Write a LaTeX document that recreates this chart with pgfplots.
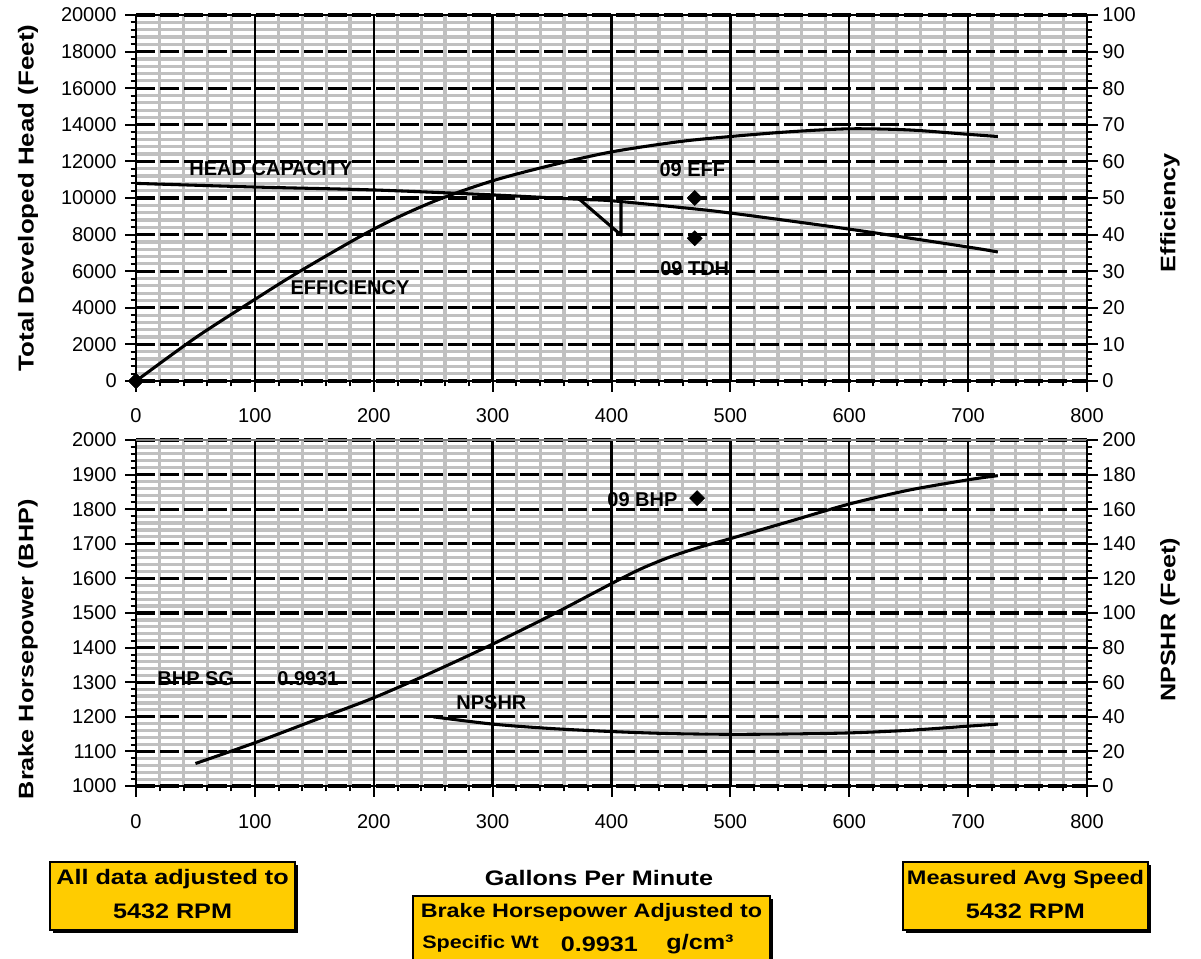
\documentclass[border=0pt]{standalone}
\usepackage{pgfplots}
\pgfplotsset{compat=1.18}
\usepackage{fontspec}
\setmainfont{Liberation Sans}
\newfontfamily\widefont{Liberation Sans}[FakeStretch=1.2]
\definecolor{gridgray}{RGB}{192,192,192}
\definecolor{boxyellow}{RGB}{255,204,0}
\definecolor{bordergray}{RGB}{128,128,128}

\tikzset{lbl/.style={font=\bfseries\fontsize{15}{17}\selectfont, inner sep=0pt}}
\pgfplotsset{
  base/.style={
    scale only axis, width=713.25pt,
    xmin=0, xmax=800,
    axis line style={draw=none},
    tick style={black, line width=1.5pt},
    major tick length=8pt, minor tick length=4pt,
    tick align=outside,
    tick label style={font=\fontsize{15}{17}\selectfont},
    /pgf/number format/assume math mode=true,
    /pgf/number format/1000 sep={},
    scaled ticks=false,
    clip=false,
  },
  gridax/.style={base,
    xtick={0,100,...,800}, minor x tick num=4, minor y tick num=4,
    xticklabels={}, yticklabels={}, major tick length=0pt, minor tick length=0pt,
    grid=minor,
    minor grid style={draw=gridgray, line width=2.4pt},
  },
  leftax/.style={base,
    xtick={0,100,...,800}, minor x tick num=4, minor y tick num=4,
    xtick pos=left, ytick pos=left,
    grid=major,
    major x grid style={draw=black, line width=1.8pt},
    major y grid style={draw=black, line width=2.4pt, dash pattern=on 14pt off 4pt},
    yticklabel style={xshift=-3pt},
    ylabel style={at={(axis description cs:-0.1136,0.5)}, anchor=center, font=\widefont\bfseries\fontsize{16.2}{18}\selectfont},
  },
  rightax/.style={base, xtick=\empty, ytick pos=right, yticklabel pos=right, minor y tick num=4,
    ylabel style={anchor=center, font=\widefont\bfseries\fontsize{15.75}{18}\selectfont},
  },
  curve/.style={black, line width=2.3pt, line join=round, no markers},
  dmark/.style={only marks, mark=square*, mark size=4pt, mark options={rotate=45, fill=black, draw=black}},
}

\begin{document}
\begin{tikzpicture}
\path[use as bounding box] (0,0) rectangle (900.75pt,-718.5pt);

% ================= top chart =================
\begin{axis}[gridax, at={(102pt,-285.75pt)}, anchor=south west, height=274.5pt,
  ymin=0, ymax=20000, ytick={0,2000,...,20000}]
\end{axis}

\begin{axis}[leftax, at={(102pt,-285.75pt)}, anchor=south west, height=274.5pt,
  ymin=0, ymax=20000, ytick={0,2000,...,20000},
  xticklabel style={yshift=-9pt},
  ylabel={Total Developed Head (Feet)}]
\addplot[curve, smooth] coordinates {
 (0,10800) (100,10600) (200,10440) (300,10170) (373,9930) (400,9850)
 (457,9490) (500,9180) (600,8300) (700,7320) (725,7050)};
\addplot[curve, sharp plot] coordinates {(373,9930) (408,7980) (408,9830)};
\addplot[dmark] coordinates {(470,7800) (0,0)};
\node[lbl] at (axis cs:113.5,11585) {HEAD CAPACITY};
\node[lbl] at (axis cs:180,5080) {EFFICIENCY};
\node[lbl] at (axis cs:468,11530) {09 EFF};
\node[lbl] at (axis cs:470,6120) {09 TDH};
\draw[line width=2.2pt] (rel axis cs:0,0) -- (rel axis cs:0,1);
\draw[line width=1.8pt] (rel axis cs:0,0) -- (rel axis cs:1,0);
\draw[line width=2.2pt] (rel axis cs:0,1) -- (rel axis cs:1,1);
\end{axis}

\begin{axis}[rightax, at={(102pt,-285.75pt)}, anchor=south west, height=274.5pt,
  ymin=0, ymax=100, ytick={0,10,...,100},
  ylabel={Efficiency}, ylabel style={at={(axis description cs:1.0873,0.46)}}]
\addplot[curve, smooth] coordinates {
 (0,0) (50,11.8) (100,22.3) (138,30) (200,41.5) (250,49) (300,54.7) (350,59)
 (400,62.6) (457,65.4) (500,66.8) (550,68.1) (600,68.9) (650,68.6) (700,67.4) (725,66.8)};
\addplot[dmark] coordinates {(470,50) (0,0)};
\draw[line width=2.2pt] (rel axis cs:1,0) -- (rel axis cs:1,1);
\end{axis}

% ================= bottom chart =================
\begin{axis}[gridax, at={(102pt,-589.5pt)}, anchor=south west, height=259.5pt,
  ymin=1000, ymax=2000, ytick={1000,1100,...,2000}]
\end{axis}

\begin{axis}[leftax, at={(102pt,-589.5pt)}, anchor=south west, height=259.5pt,
  ymin=1000, ymax=2000, ytick={1000,1100,...,2000},
  xticklabel style={yshift=-10pt},
  ylabel={Brake Horsepower (BHP)}, ylabel style={at={(axis description cs:-0.1136,0.395)}, font=\widefont\bfseries\fontsize{15.75}{18}\selectfont}]
\addplot[curve, smooth] coordinates {
 (50,1065) (100,1125) (150,1190) (200,1255) (250,1330) (300,1410) (350,1495)
 (400,1585) (425,1628) (450,1663) (475,1691) (500,1715) (550,1765) (600,1815) (650,1855) (700,1885) (725,1897)};
\addplot[dmark] coordinates {(472,1832)};
\node[lbl] at (axis cs:426,1829) {09 BHP};
\node[lbl] at (axis cs:50.3,1311) {BHP SG};
\node[lbl] at (axis cs:144.7,1311) {0.9931};
\node[lbl] at (axis cs:299,1241) {NPSHR};
\draw[line width=2.2pt] (rel axis cs:0,0) -- (rel axis cs:0,1);
\draw[line width=1.8pt] (rel axis cs:0,0) -- (rel axis cs:1,0);
\draw[line width=2.2pt, bordergray] (rel axis cs:0,1) -- (rel axis cs:1,1);
\end{axis}

\begin{axis}[rightax, at={(102pt,-589.5pt)}, anchor=south west, height=259.5pt,
  ymin=0, ymax=200, ytick={0,20,...,200},
  ylabel={NPSHR (Feet)}, ylabel style={at={(axis description cs:1.0873,0.48)}}]
\addplot[curve, smooth] coordinates {
 (250,40) (300,35.8) (350,33.2) (403,31.4) (450,30.3) (502,29.9) (550,30.1)
 (600,30.7) (650,32.2) (700,34.6) (725,35.8)};
\draw[line width=2.2pt] (rel axis cs:1,0) -- (rel axis cs:1,1);
\end{axis}

% ================= bottom texts and boxes =================
\node[font=\widefont\bfseries\fontsize{15.75}{18}\selectfont] at (449.25pt,-658.5pt) {Gallons Per Minute};

\fill[black] (39.5pt,-648.5pt) rectangle (223.25pt,-699.5pt);
\filldraw[fill=boxyellow, draw=black, line width=1.2pt] (37.5pt,-646.5pt) rectangle (221.25pt,-697.5pt);
\node[font=\widefont\bfseries\fontsize{15.75}{18}\selectfont] at (129.4pt,-659.25pt) {All data adjusted to};
\node[font=\widefont\bfseries\fontsize{15.75}{18}\selectfont] at (129.4pt,-683.25pt) {5432 RPM};

\fill[black] (679.25pt,-648.5pt) rectangle (863pt,-699.5pt);
\filldraw[fill=boxyellow, draw=black, line width=1.2pt] (677.25pt,-646.5pt) rectangle (861pt,-697.5pt);
\node[font=\widefont\bfseries\fontsize{14.7}{18}\selectfont] at (769.1pt,-659.25pt) {Measured Avg Speed};
\node[font=\widefont\bfseries\fontsize{15.75}{18}\selectfont] at (769.1pt,-683.25pt) {5432 RPM};

\fill[black] (311.75pt,-674pt) rectangle (579.5pt,-730pt);
\filldraw[fill=boxyellow, draw=black, line width=1.2pt] (309.75pt,-672pt) rectangle (577.5pt,-728pt);
\node[font=\widefont\bfseries\fontsize{14.6}{18}\selectfont] at (443.6pt,-684pt) {Brake Horsepower Adjusted to};
\node[font=\widefont\bfseries\fontsize{13.5}{16}\selectfont] at (360.4pt,-708pt) {Specific Wt};
\node[font=\widefont\bfseries\fontsize{15.75}{18}\selectfont] at (449.6pt,-708pt) {0.9931};
\node[font=\widefont\bfseries\fontsize{15.75}{18}\selectfont] at (525pt,-708pt) {g/cm³};
\end{tikzpicture}
\end{document}
